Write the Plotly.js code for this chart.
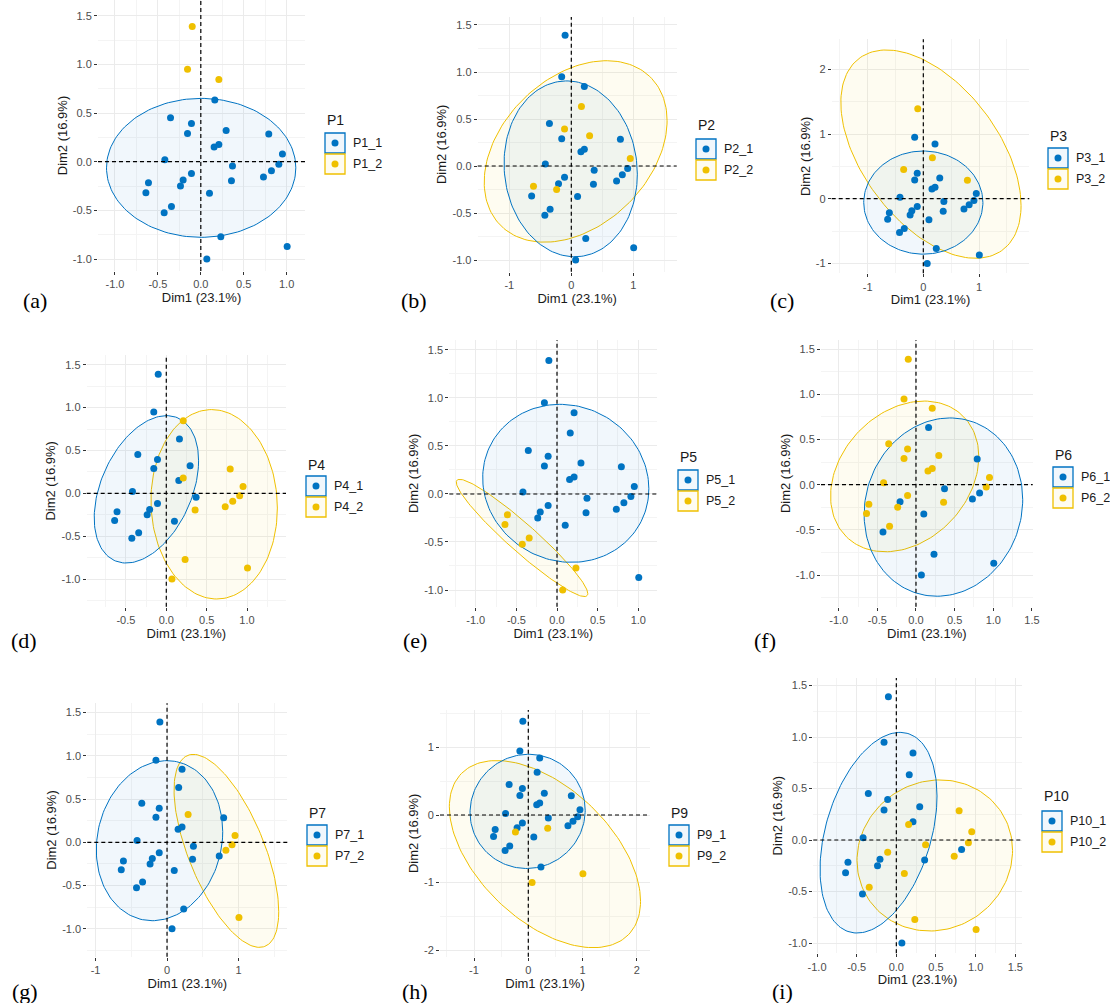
<!DOCTYPE html>
<html><head><meta charset="utf-8">
<script src="https://cdn.plot.ly/plotly-3.0.1.min.js"></script>
<style>html,body{margin:0;padding:0;background:#fff}#chart{width:1110px;height:1003px}</style>
</head><body><div id="chart"></div>
<script>
// ---- individual coordinates on the first two PCA dimensions ----
const dim1 = [-0.10,-0.155,0.21,0.163,-0.353,-0.109,-0.155,0.295,0.792,0.155,0.21,0.951,-0.419,0.369,0.909,0.823,0.730,-0.109,0.357,-0.206,-0.237,-0.61,-0.64,0.101,-0.342,-0.427,0.233,1.006,0.070];
const dim2 = [1.39,0.95,0.846,0.634,0.452,0.394,0.291,0.322,0.284,0.151,0.178,0.079,0.021,-0.045,-0.027,-0.092,-0.158,-0.12,-0.195,-0.188,-0.25,-0.216,-0.318,-0.325,-0.459,-0.524,-0.771,-0.870,-1.0];

// ---- factors: panels and the individuals in level _2 of each ----
const panelNames = ['P1','P2','P3','P4','P5','P6','P7','P9','P10'];
const panelLetters = ['(a)','(b)','(c)','(d)','(e)','(f)','(g)','(h)','(i)'];
const level2Members = [
  [0,1,2],
  [3,5,7,11,20,21],
  [0,3,4,8],
  [2,8,10,11,14,15,16,18,26,27,28],
  [21,22,24,25,26,28],
  [0,1,2,4,5,6,7,9,10,11,12,14,17,18,20,21,22,24],
  [7,11,14,15,27],
  [18,20,27,28],
  [8,9,11,13,14,16,17,23,24,26,27]
];

// ---- concentration ellipses (centre, half-extents, x-offset of top point) ----
const ell1Cx   = [0.004,-0.01,0.0,-0.2465,0.108,0.355,-0.105,-0.0125,-0.2245];
const ell1Cy   = [-0.063,-0.03,-0.06,0.0465,0.111,-0.248,0.019,0.054,0.071];
const ell1Hx   = [1.103,1.075,1.07,0.6465,1.022,1.026,0.884,1.06,0.7375];
const ell1Hy   = [0.714,0.935,0.797,0.86,0.823,0.987,0.925,0.846,0.974];
const ell1TopDx= [0.0,-0.065,0.0,0.25,-0.071,0.085,0.1,0.02,0.27];
const ell2Cx   = [null,0.07,0.137,0.593,-0.43,-0.146,0.83,0.3065,0.485];
const ell2Cy   = [null,0.155,0.689,-0.128,-0.458,0.0915,-0.0985,-0.579,-0.15];
const ell2Hx   = [null,1.475,1.618,0.783,0.809,0.959,0.732,1.7605,0.981];
const ell2Hy   = [null,0.965,1.61,1.105,0.611,0.8345,1.1155,1.386,0.7335];
const ell2TopDx= [null,0.50,-0.80,-0.031,-0.768,0.25,-0.462,-0.89,0.065];

// ---- tick values / labels ----
const ticksHalfA = [-1,-0.5,0,0.5,1];       const labHalfA = ['-1.0','-0.5','0.0','0.5','1.0'];
const ticksHalfB = [-1,-0.5,0,0.5,1,1.5];   const labHalfB = ['-1.0','-0.5','0.0','0.5','1.0','1.5'];
const ticksHalfC = [-0.5,0,0.5,1];          const labHalfC = ['-0.5','0.0','0.5','1.0'];
const ticksUnitA = [-1,0,1];                const labUnitA = ['-1','0','1'];
const ticksUnitB = [-1,0,1,2];              const labUnitB = ['-1','0','1','2'];
const ticksUnitC = [-2,-1,0,1];             const labUnitC = ['-2','-1','0','1'];

const blue = '#0073C2', yellow = '#EFC000';
const blueFill = 'rgba(0,115,194,0.055)', yellowFill = 'rgba(239,192,0,0.055)';

// ---- layout geometry (pixels) ----
const W = 1110, H = 1003;
const geo = [
  {box:[98,305,0,271],        xr:[-1.198,1.214], yr:[-1.123,1.662], xt:[ticksHalfA,labHalfA], yt:[ticksHalfB,labHalfB], xm:0.25, ym:0.25, lg:[325,120,133], lab:[35,300]},
  {box:[477.7,676.7,17,271.7],xr:[-1.51,1.70],   yr:[-1.124,1.585], xt:[ticksUnitA,labUnitA], yt:[ticksHalfB,labHalfB], xm:0.5, ym:0.25, lg:[696,125,139], lab:[414,300]},
  {box:[831.7,1029.3,39.3,273.3], xr:[-1.645,1.903], yr:[-1.153,2.464], xt:[ticksUnitA,labUnitA], yt:[ticksUnitB,labUnitB], xm:0.5, ym:0.5, lg:[1048,136,148], lab:[782,300]},
  {box:[86.7,286,355,606.7],  xr:[-0.986,1.483], yr:[-1.323,1.614], xt:[ticksHalfC,labHalfC], yt:[ticksHalfB,labHalfB], xm:0.25, ym:0.25, lg:[306,465,476], lab:[24,640]},
  {box:[449.3,657.3,340,606.7], xr:[-1.325,1.234], yr:[-1.174,1.604], xt:[ticksHalfA,labHalfA], yt:[ticksHalfB,labHalfB], xm:0.25, ym:0.25, lg:[678,457,470], lab:[415,640]},
  {box:[821,1032.7,340,606.7], xr:[-1.229,1.51], yr:[-1.351,1.602], xt:[ticksHalfB,labHalfB], yt:[ticksHalfB,labHalfB], xm:0.25, ym:0.25, lg:[1053,455,467], lab:[765,640]},
  {box:[87.3,287.3,703.3,956.7], xr:[-1.115,1.682], yr:[-1.322,1.607], xt:[ticksUnitA,labUnitA], yt:[ticksHalfB,labHalfB], xm:0.5, ym:0.25, lg:[307,813,825], lab:[25,991]},
  {box:[440,650,710,956.7],   xr:[-1.626,2.241], yr:[-2.099,1.556], xt:[ticksUnitB,labUnitB], yt:[ticksUnitC,labUnitC], xm:0.5, ym:0.5, lg:[669,813,825], lab:[415,991]},
  {box:[813.3,1021.7,678,953.3], xr:[-1.047,1.581], yr:[-1.1,1.573], xt:[ticksHalfB,labHalfB], yt:[ticksHalfB,labHalfB], xm:0.25, ym:0.25, lg:[1042,796,811], lab:[782,991]}
];

function ellipsePath(cx, cy, hx, hy, topDx) {
  const sxy = topDx * hy;
  const l21 = sxy / hx;
  const l22 = Math.sqrt(Math.max(hy*hy - l21*l21, 1e-6));
  const xs = [], ys = [];
  for (let k = 0; k <= 160; k++) {
    const t = 2*Math.PI*k/160;
    xs.push(cx + hx*Math.cos(t));
    ys.push(cy + l21*Math.cos(t) + l22*Math.sin(t));
  }
  return {xs, ys};
}

const px = v => v / W, py = v => 1 - v / H;
const font = 'Liberation Sans, Arial, sans-serif';
const traces = [], shapes = [], annotations = [];
const layout = {
  width: W, height: H, margin: {l:0,r:0,t:0,b:0},
  paper_bgcolor: '#fff', plot_bgcolor: '#fff', showlegend: false,
  font: {family: font, size: 11, color: '#4D4D4D'}
};

panelNames.forEach((name, p) => {
  const g = geo[p];
  const sfx = p === 0 ? '' : String(p+1);
  const xa = 'x' + sfx, ya = 'y' + sfx;
  const members2 = level2Members[p];
  const idx1 = dim1.map((_, i) => i).filter(i => !members2.includes(i));

  // ellipses
  if (ell2Cx[p] !== null) {
    const e2 = ellipsePath(ell2Cx[p], ell2Cy[p], ell2Hx[p], ell2Hy[p], ell2TopDx[p]);
    traces.push({x: e2.xs, y: e2.ys, xaxis: xa, yaxis: ya, type: 'scatter', mode: 'lines',
      fill: 'toself', fillcolor: yellowFill, line: {color: yellow, width: 1}, hoverinfo: 'skip'});
  }
  const e1 = ellipsePath(ell1Cx[p], ell1Cy[p], ell1Hx[p], ell1Hy[p], ell1TopDx[p]);
  traces.push({x: e1.xs, y: e1.ys, xaxis: xa, yaxis: ya, type: 'scatter', mode: 'lines',
    fill: 'toself', fillcolor: blueFill, line: {color: blue, width: 1}, hoverinfo: 'skip'});

  // points
  traces.push({x: idx1.map(i => dim1[i]), y: idx1.map(i => dim2[i]), xaxis: xa, yaxis: ya,
    type: 'scatter', mode: 'markers', marker: {color: blue, size: 7}, name: name + '_1'});
  traces.push({x: members2.map(i => dim1[i]), y: members2.map(i => dim2[i]), xaxis: xa, yaxis: ya,
    type: 'scatter', mode: 'markers', marker: {color: yellow, size: 7}, name: name + '_2'});

  const [bx0, bx1, by0, by1] = g.box;
  const common = {showline: false, zeroline: false, gridcolor: '#EBEBEB', gridwidth: 1,
    ticks: 'outside', ticklen: 3, tickcolor: '#333333', tickwidth: 1, tickmode: 'array',
    tickfont: {family: font, size: 11, color: '#4D4D4D'}, automargin: false, fixedrange: true};
  layout['xaxis' + sfx] = Object.assign({}, common, {
    domain: [px(bx0), px(bx1)], range: g.xr, anchor: ya,
    tickvals: g.xt[0], ticktext: g.xt[1],
    minor: {dtick: g.xm, tick0: 0, showgrid: true, gridcolor: '#F4F4F4', gridwidth: 1, ticks: ''},
    title: {text: 'Dim1 (23.1%)', font: {family: font, size: 13, color: '#1A1A1A'}, standoff: 3}
  });
  layout['yaxis' + sfx] = Object.assign({}, common, {
    domain: [py(by1), py(by0)], range: g.yr, anchor: xa,
    tickvals: g.yt[0], ticktext: g.yt[1],
    minor: {dtick: g.ym, tick0: 0, showgrid: true, gridcolor: '#F4F4F4', gridwidth: 1, ticks: ''},
    title: {text: 'Dim2 (16.9%)', font: {family: font, size: 13, color: '#1A1A1A'}, standoff: 2}
  });

  // dashed reference lines at 0
  shapes.push({type: 'line', xref: xa, yref: ya + ' domain', x0: 0, x1: 0, y0: 0, y1: 1,
    line: {color: '#000', width: 1.2, dash: '4px,3px'}, layer: 'above'});
  shapes.push({type: 'line', xref: xa + ' domain', yref: ya, x0: 0, x1: 1, y0: 0, y1: 0,
    line: {color: '#000', width: 1.2, dash: '4px,3px'}, layer: 'above'});

  // legend (title, two keys)
  const [lx, ty, ky] = g.lg;
  annotations.push({xref: 'paper', yref: 'paper', x: px(lx), y: py(ty), xanchor: 'left', yanchor: 'middle',
    text: name, showarrow: false, font: {family: font, size: 14, color: '#1A1A1A'}});
  [[blue, blueFill, '_1'], [yellow, yellowFill, '_2']].forEach(([c, f, s], k) => {
    const top = ky + k * 21, sz = 20;
    shapes.push({type: 'rect', xref: 'paper', yref: 'paper', x0: px(lx), x1: px(lx + sz),
      y0: py(top + sz), y1: py(top), fillcolor: f, line: {color: c, width: 1.3}});
    shapes.push({type: 'circle', xref: 'paper', yref: 'paper', x0: px(lx + sz/2 - 3.5), x1: px(lx + sz/2 + 3.5),
      y0: py(top + sz/2 + 3.5), y1: py(top + sz/2 - 3.5), fillcolor: c, line: {width: 0}});
    annotations.push({xref: 'paper', yref: 'paper', x: px(lx + sz + 6), y: py(top + sz/2), xanchor: 'left', yanchor: 'middle',
      text: name + s, showarrow: false, font: {family: font, size: 12.5, color: '#1A1A1A'}});
  });

  // panel letter
  annotations.push({xref: 'paper', yref: 'paper', x: px(g.lab[0]), y: py(g.lab[1]), xanchor: 'center', yanchor: 'middle',
    text: panelLetters[p], showarrow: false, font: {family: 'Liberation Serif, Times New Roman, serif', size: 22, color: '#000'}});
});

layout.shapes = shapes;
layout.annotations = annotations;
Plotly.newPlot('chart', traces, layout, {staticPlot: true, displayModeBar: false});
</script>
</body></html>
